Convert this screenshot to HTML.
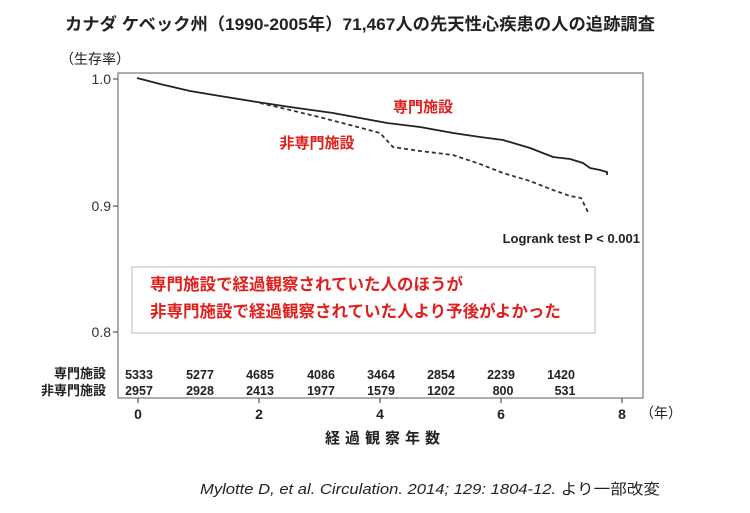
<!DOCTYPE html>
<html><head><meta charset="utf-8"><style>
body{margin:0;background:#fff;}
svg{display:block;font-family:"Liberation Sans","Noto Sans CJK JP",sans-serif;}
</style></head><body>
<svg width="750" height="513" viewBox="0 0 750 513">
<text x="65" y="30" font-size="17" font-weight="bold" fill="#222" textLength="590" lengthAdjust="spacingAndGlyphs">カナダ ケベック州（1990-2005年）71,467人の先天性心疾患の人の追跡調査</text>
<text x="60" y="64" font-size="14" fill="#222">（生存率）</text>
<rect x="118" y="73" width="525" height="325" fill="none" stroke="#777" stroke-width="1.2"/>
<g font-size="14" fill="#333" text-anchor="end">
<text x="111" y="84">1.0</text><text x="111" y="211">0.9</text><text x="111" y="337">0.8</text>
</g>
<g stroke="#555" stroke-width="1.2">
<line x1="113" y1="79" x2="118" y2="79"/><line x1="113" y1="206" x2="118" y2="206"/><line x1="113" y1="332" x2="118" y2="332"/>
<line x1="138" y1="398" x2="138" y2="403"/><line x1="259" y1="398" x2="259" y2="403"/><line x1="380" y1="398" x2="380" y2="403"/><line x1="501" y1="398" x2="501" y2="403"/><line x1="622" y1="398" x2="622" y2="403"/>
</g>
<polyline fill="none" stroke="#222" stroke-width="1.8" points="137,78 160,84 190,91 220,96 257,102 290,107 333,113 360,118 387,123 420,127 453,133 480,137 503,140 530,148 553,157 570,159 583,163 590,168 600,170 607,172 607,175"/>
<polyline fill="none" stroke="#333" stroke-width="1.8" stroke-dasharray="4,3" points="260,103 290,110 323,118 350,125 380,133 393,147 420,151 453,155 480,164 503,173 530,181 553,190 570,196 581,198 585,206 589,214"/>
<text x="423" y="112" font-size="15" font-weight="bold" fill="#e0201c" text-anchor="middle">専門施設</text>
<text x="317" y="148" font-size="15" font-weight="bold" fill="#e0201c" text-anchor="middle">非専門施設</text>
<text x="640" y="243" font-size="13" font-weight="bold" fill="#222" text-anchor="end">Logrank test P &lt; 0.001</text>
<rect x="132" y="267" width="463" height="66" fill="#fff" stroke="#bbb" stroke-width="1"/>
<text x="150" y="290" font-size="16.5" font-weight="bold" fill="#e0201c">専門施設で経過観察されていた人のほうが</text>
<text x="150" y="317" font-size="16.5" font-weight="bold" fill="#e0201c">非専門施設で経過観察されていた人より予後がよかった</text>
<g font-size="13" font-weight="bold" fill="#222" text-anchor="end">
<text x="106" y="378">専門施設</text><text x="106" y="395">非専門施設</text>
</g>
<g font-size="12.5" font-weight="bold" fill="#222" text-anchor="middle">
<text x="139" y="379">5333</text><text x="200" y="379">5277</text><text x="260" y="379">4685</text><text x="321" y="379">4086</text><text x="381" y="379">3464</text><text x="441" y="379">2854</text><text x="501" y="379">2239</text><text x="561" y="379">1420</text>
<text x="139" y="395">2957</text><text x="200" y="395">2928</text><text x="260" y="395">2413</text><text x="321" y="395">1977</text><text x="381" y="395">1579</text><text x="441" y="395">1202</text><text x="503" y="395">800</text><text x="565" y="395">531</text>
</g>
<g font-size="14" font-weight="bold" fill="#222" text-anchor="middle">
<text x="138" y="419">0</text><text x="259" y="419">2</text><text x="380" y="419">4</text><text x="501" y="419">6</text><text x="622" y="419">8</text>
</g>
<text x="640" y="418" font-size="14" fill="#222">（年）</text>
<text x="385" y="443" font-size="15" font-weight="bold" fill="#222" text-anchor="middle" letter-spacing="5">経過観察年数</text>
<text x="200" y="494" font-size="15" font-style="italic" fill="#222" textLength="460" lengthAdjust="spacingAndGlyphs">Mylotte D, et al. Circulation. 2014; 129: 1804-12. <tspan font-style="normal">より一部改変</tspan></text>
</svg>
</body></html>
